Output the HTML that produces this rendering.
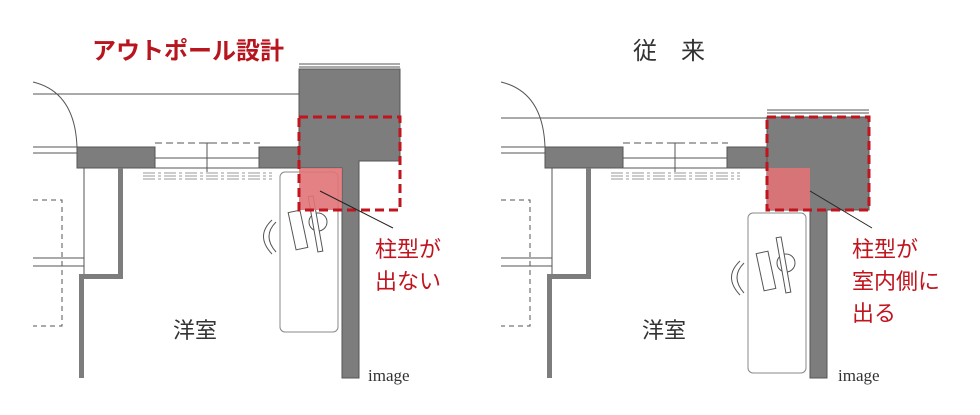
<!DOCTYPE html>
<html><head><meta charset="utf-8"><style>
html,body{margin:0;padding:0;background:#fff;}
svg{display:block;}
</style></head><body>
<svg width="980" height="415" viewBox="0 0 980 415" xmlns="http://www.w3.org/2000/svg">
<defs>
<g id="common" fill="none" stroke="#555" stroke-width="1">
  <path d="M33 82 Q75 92 77 147"/>
  <line x1="33" y1="147" x2="77" y2="147"/>
  <line x1="33" y1="153" x2="77" y2="153"/>
  <rect x="77" y="147" width="78" height="21" fill="#7d7d7d" stroke="#555"/>
  <rect x="259" y="147" width="40" height="21" fill="#7d7d7d" stroke="#555"/>
  <line x1="155" y1="158" x2="259" y2="158"/>
  <line x1="155" y1="168" x2="259" y2="168"/>
  <line x1="155" y1="143" x2="260" y2="143" stroke-dasharray="7,4"/>
  <line x1="207" y1="143" x2="207" y2="172"/>
  <line x1="203" y1="143" x2="211" y2="143"/>
  <g stroke="#777" stroke-width="0.8">
  <line x1="143" y1="173" x2="272" y2="173" stroke-dasharray="12,3,3,3"/>
  <line x1="143" y1="176" x2="272" y2="176" stroke-dasharray="12,3,3,3"/>
  <line x1="143" y1="179" x2="272" y2="179" stroke-dasharray="12,3,3,3"/>
  </g>
  <path d="M118 168 L123 168 L123 279 L84 279 L84 378 L79 378 L79 274 L118 274 Z" fill="#7d7d7d" stroke="none"/>
  <line x1="84" y1="168" x2="84" y2="274"/>
  <line x1="33" y1="258" x2="84" y2="258"/>
  <line x1="33" y1="266" x2="84" y2="266"/>
  <path d="M33 200 L62 200 L62 326 L33 326" stroke-dasharray="5,4"/>
</g>
<g id="chair" fill="#fff" stroke="#555" stroke-width="1">
  <path d="M272 220 Q255 236 272 254" fill="none"/>
  <path d="M276 222 Q262 236 276 252" fill="none"/>
  <circle cx="318" cy="222" r="9"/>
  <rect x="292" y="211" width="12" height="38" transform="rotate(-12 298 230)"/>
  <rect x="313" y="196" width="5" height="56" transform="rotate(-10 315 224)"/>
</g>
</defs>

<text x="92" y="59" font-family="Liberation Sans, 'Noto Sans CJK JP', sans-serif" font-size="24" font-weight="bold" fill="#b7161e">アウトポール設計</text>
<line x1="299" y1="64" x2="400" y2="64" stroke="#555"/>
<line x1="299" y1="67" x2="400" y2="67" stroke="#555"/>
<line x1="33" y1="94" x2="299" y2="94" stroke="#555"/>
<use href="#common"/>
<path d="M299 69 L400 69 L400 161 L359 161 L359 378 L342 378 L342 168 L299 168 Z" fill="#7d7d7d" stroke="#555"/>
<rect x="280" y="172" width="58" height="160" rx="5" fill="none" stroke="#888"/>
<use href="#chair"/>
<rect x="299" y="168" width="43" height="42" fill="#e07378" opacity="0.9"/>
<rect x="299" y="117" width="101" height="93" fill="none" stroke="#c0141e" stroke-width="3" stroke-dasharray="9,5"/>
<line x1="320" y1="191" x2="393" y2="228" stroke="#222"/>
<text font-family="Liberation Sans, 'Noto Sans CJK JP', sans-serif" font-size="22" fill="#c0141e"><tspan x="375" y="257">柱型が</tspan><tspan x="375" y="289">出ない</tspan></text>
<text x="173" y="338" font-family="Liberation Sans, 'Noto Sans CJK JP', sans-serif" font-size="22" fill="#333">洋室</text>
<text x="368" y="381" font-family="Liberation Serif, serif" font-size="17" fill="#333">image</text>

<text x="633" y="59" font-family="Liberation Sans, 'Noto Sans CJK JP', sans-serif" font-size="24" fill="#333">従　来</text>
<line x1="767" y1="110" x2="869" y2="110" stroke="#555"/>
<line x1="767" y1="113" x2="869" y2="113" stroke="#555"/>
<line x1="501" y1="118" x2="767" y2="118" stroke="#555"/>
<g transform="translate(468,0)"><use href="#common"/></g>
<path d="M767 117 L869 117 L869 210 L827 210 L827 378 L810 378 L810 210 L767 210 Z" fill="#7d7d7d" stroke="#555"/>
<rect x="748" y="213" width="58" height="160" rx="5" fill="none" stroke="#888"/>
<g transform="translate(468,41)"><use href="#chair"/></g>
<rect x="767" y="168" width="43" height="42" fill="#e07378" opacity="0.9"/>
<rect x="767" y="117" width="102" height="93" fill="none" stroke="#c0141e" stroke-width="3" stroke-dasharray="9,5"/>
<line x1="810" y1="191" x2="872" y2="228" stroke="#222"/>
<text font-family="Liberation Sans, 'Noto Sans CJK JP', sans-serif" font-size="22" fill="#c0141e"><tspan x="852" y="257">柱型が</tspan><tspan x="852" y="289">室内側に</tspan><tspan x="852" y="321">出る</tspan></text>
<text x="642" y="338" font-family="Liberation Sans, 'Noto Sans CJK JP', sans-serif" font-size="22" fill="#333">洋室</text>
<text x="838" y="381" font-family="Liberation Serif, serif" font-size="17" fill="#333">image</text>
</svg>
</body></html>
